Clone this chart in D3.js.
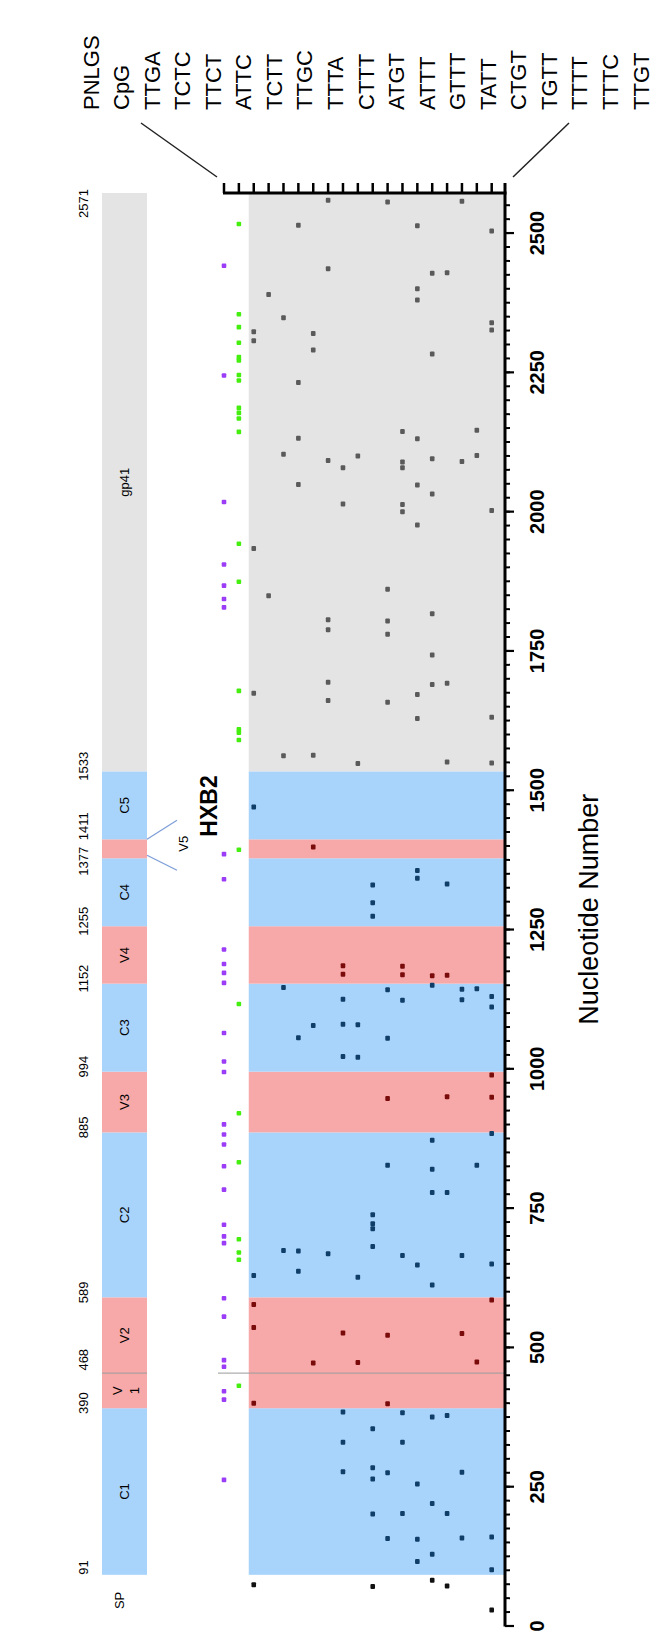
<!DOCTYPE html>
<html>
<head>
<meta charset="utf-8">
<script src="https://cdn.jsdelivr.net/npm/d3@7"></script>
<style>
  body { margin: 0; background: #fff; }
  svg { display: block; font-family: "Liberation Sans", Arial, Helvetica, sans-serif; }
</style>
</head>
<body>
<script>
// motif columns, left to right
var motifs = ["PNLGS", "CpG", "TTGA", "TCTC", "TTCT", "ATTC", "TCTT", "TTGC", "TTTA", "CTTT",
              "ATGT", "ATTT", "GTTT", "TATT", "CTGT", "TGTT", "TTTT", "TTTC", "TTGT"];

// nucleotide positions of each hit
var pnlgs = [2440, 2243, 2016, 1904, 1866, 1842, 1827, 1384, 1339, 1213, 1187, 1171, 1153, 1063, 1012, 993, 899, 881, 863, 824, 782, 719, 698, 686, 587, 554, 476, 464, 420, 405, 261];
var cpg = [2515, 2353, 2330, 2302, 2276, 2270, 2244, 2234, 2185, 2176, 2166, 2142, 1941, 1873, 1677, 1608, 1602, 1589, 1392, 1115, 919, 831, 693, 669, 656, 430];
var ttga = [2322, 2306, 1933, 1673, 1469, 628, 576, 535, 399, 73];
var tctc = [2389, 1848];
var ttct = [2347, 2102, 1561, 1145, 673];
var attc = [2513, 2231, 2131, 2048, 1055, 672, 636];
var tctt = [2319, 2289, 1562, 1397, 1077, 471];
var ttgc = [2558, 2435, 2091, 1805, 1787, 1693, 1660, 667];
var ttta = [2078, 2013, 1184, 1169, 1124, 1079, 1021, 525, 383, 329, 276];
var cttt = [2099, 1547, 1078, 1020, 625, 472];
var atgt = [1329, 1297, 1273, 737, 721, 712, 680, 353, 283, 263, 200, 70];
var attt = [2555, 1860, 1803, 1779, 1657, 1141, 1054, 946, 826, 521, 398, 274, 156];
var gttt = [2143, 2088, 2078, 2012, 1999, 1183, 1168, 1122, 664, 382, 329, 201];
var tatt = [2512, 2399, 2379, 2130, 2047, 1975, 1671, 1628, 1355, 1341, 647, 254, 155, 115];
var ctgt = [2427, 2282, 2094, 2031, 1816, 1742, 1689, 1166, 1149, 871, 819, 777, 611, 374, 219, 128, 81];
var tgtt = [2428, 1691, 1550, 1331, 1167, 949, 777, 377, 201, 71];
var tttt = [2556, 2089, 1142, 1123, 664, 524, 275, 157];
var tttc = [2145, 2100, 1143, 826, 473];
var ttgt = [2503, 2338, 2325, 2001, 1630, 1548, 1129, 1110, 988, 948, 883, 649, 584, 159, 100, 28];

var hits = [pnlgs, cpg, ttga, tctc, ttct, attc, tctt, ttgc, ttta, cttt,
            atgt, attt, gttt, tatt, ctgt, tgtt, tttt, tttc, ttgt];

// HXB2 env regions
var regionNames = ["C1", "V1", "V2", "C2", "V3", "C3", "V4", "C4", "V5", "C5", "gp41"];
var regionStart = [91, 390, 453, 589, 885, 994, 1152, 1255, 1377, 1411, 1533];
var regionEnd   = [390, 453, 589, 885, 994, 1152, 1255, 1377, 1411, 1533, 2571];
var regionType  = ["C", "V", "V", "C", "V", "C", "V", "C", "V", "C", "G"];

// numbers written beside the map
var boundaryLabels = [91, 390, 468, 589, 885, 994, 1152, 1255, 1377, 1411, 1533, 2571];

var majorTicks = d3.range(0, 2501, 250);
var minorTicks = d3.range(0, 2551, 25);

var bgColor = { C: "#a8d3fb", V: "#f7a8a8", G: "#e4e4e4" };
var dotColor = { C: "#0f3e68", V: "#7a0b0b", G: "#5a5a5a", N: "#111111" };

var width = 652, height = 1640;
var axisX = 505, axisTop = 193;
var barLeft = 102, barRight = 147;

var svg = d3.select("body").append("svg")
    .attr("width", width)
    .attr("height", height);

var y = d3.scaleLinear().domain([0, 2571]).range([1625.5, axisTop]);
var x = d3.scalePoint().domain(motifs).range([224, 491.7]);
var xLabel = d3.scalePoint().domain(motifs).range([91, 641]);

var regions = regionNames.map(function (n, i) {
    return { name: n, start: regionStart[i], end: regionEnd[i], type: regionType[i] };
});

function typeAt(n) {
    for (var i = 0; i < regions.length; i++) {
        if (n >= regions[i].start && n < regions[i].end) return regions[i].type;
    }
    return n >= 2571 ? "G" : "N";
}

// chart background bands
var bgLeft = x(motifs[2]) - 5;
svg.append("g").selectAll("rect")
    .data(regions)
    .enter().append("rect")
    .attr("x", bgLeft)
    .attr("width", axisX - bgLeft)
    .attr("y", function (d) { return y(d.end); })
    .attr("height", function (d) { return y(d.start) - y(d.end); })
    .attr("fill", function (d) { return bgColor[d.type]; });

// V1/V2 divider
svg.append("line")
    .attr("x1", 218).attr("x2", axisX)
    .attr("y1", y(regionStart[2])).attr("y2", y(regionStart[2]))
    .attr("stroke", "#999").attr("stroke-width", 1);

// genome map bar
var bar = svg.append("g");
bar.selectAll("rect")
    .data(regions)
    .enter().append("rect")
    .attr("x", barLeft)
    .attr("width", barRight - barLeft)
    .attr("y", function (d) { return y(d.end); })
    .attr("height", function (d) { return y(d.start) - y(d.end); })
    .attr("fill", function (d) { return bgColor[d.type]; });

bar.append("line")
    .attr("x1", barLeft).attr("x2", barRight)
    .attr("y1", y(regionStart[2])).attr("y2", y(regionStart[2]))
    .attr("stroke", "#999").attr("stroke-width", 1);

// region names inside the bar (V5 goes outside)
regions.forEach(function (d) {
    if (d.name === "V5") return;
    var cy = y((d.start + d.end) / 2);
    var t = bar.append("text")
        .attr("transform", "translate(" + ((barLeft + barRight) / 2) + "," + cy + ") rotate(-90)")
        .attr("text-anchor", "middle")
        .attr("dominant-baseline", "central")
        .style("font-size", "13px");
    if (d.name === "V1") {
        t.append("tspan").attr("x", 0).attr("dy", "-0.6em").text("V");
        t.append("tspan").attr("x", 0).attr("dy", "1.3em").text("1");
    } else {
        t.text(d.name);
    }
});

bar.append("text")
    .attr("transform", "translate(119," + y(45) + ") rotate(-90)")
    .attr("text-anchor", "middle")
    .attr("dominant-baseline", "central")
    .style("font-size", "13px")
    .text("SP");

// V5 call-out
var v5 = regions[8];
bar.append("line")
    .attr("x1", barRight).attr("y1", y(v5.end))
    .attr("x2", barRight + 30).attr("y2", y(v5.end) - 19)
    .attr("stroke", "#7f9fd8").attr("stroke-width", 1.3);
bar.append("line")
    .attr("x1", barRight).attr("y1", y(v5.start) - 3)
    .attr("x2", barRight + 30).attr("y2", y(v5.start) + 12)
    .attr("stroke", "#7f9fd8").attr("stroke-width", 1.3);
bar.append("text")
    .attr("transform", "translate(183," + (y((v5.start + v5.end) / 2) - 5) + ") rotate(-90)")
    .attr("text-anchor", "middle")
    .attr("dominant-baseline", "central")
    .style("font-size", "13px")
    .text("V5");

// boundary numbers, nudged apart where they would overlap
var labPos = boundaryLabels.map(function (v) {
    var half = String(v).length * 13 * 0.556 / 2;
    return { v: v, c: y(v) - 5, half: half };
});
for (var it = 0; it < 30; it++) {
    for (var i = 0; i < labPos.length - 1; i++) {
        var a = labPos[i], b = labPos[i + 1];
        var need = a.half + b.half + 6;
        var gap = a.c - b.c;
        if (gap < need) {
            var push = (need - gap) / 2;
            a.c += push; b.c -= push;
        }
    }
    labPos[0].c = Math.min(labPos[0].c, y(boundaryLabels[0]) - labPos[0].half);
    var last = labPos[labPos.length - 1];
    last.c = Math.max(last.c, y(boundaryLabels[boundaryLabels.length - 1]) + last.half - 4);
}
bar.selectAll(".blab")
    .data(labPos)
    .enter().append("text")
    .attr("class", "blab")
    .attr("transform", function (d) { return "translate(83," + d.c + ") rotate(-90)"; })
    .attr("text-anchor", "middle")
    .attr("dominant-baseline", "central")
    .style("font-size", "13px")
    .text(function (d) { return d.v; });

// title
svg.append("text")
    .attr("transform", "translate(209,806) rotate(-90)")
    .attr("text-anchor", "middle")
    .attr("dominant-baseline", "central")
    .style("font-size", "23px")
    .style("font-weight", "bold")
    .text("HXB2");

// hits
var dots = svg.append("g");
hits.forEach(function (arr, i) {
    var m = motifs[i];
    dots.selectAll(".c" + i)
        .data(arr)
        .enter().append("rect")
        .attr("class", "c" + i)
        .attr("x", x(m) - 2.3)
        .attr("y", function (d) { return y(d) - 2.5; })
        .attr("width", 4.6)
        .attr("height", i < 2 ? 4.6 : 5)
        .attr("rx", 1)
        .attr("fill", function (d) {
            if (i === 0) return "#9b3cf7";
            if (i === 1) return "#44ee0e";
            return dotColor[typeAt(d)];
        });
});

// vertical nucleotide axis
var axisG = svg.append("g").attr("transform", "translate(" + axisX + ",0)");
axisG.append("g")
    .call(d3.axisRight(y).tickValues(minorTicks).tickSize(5).tickSizeOuter(0).tickFormat(""))
    .call(function (g) { g.select(".domain").remove(); })
    .selectAll("line").attr("stroke", "#000").attr("stroke-width", 2);
var major = axisG.append("g")
    .call(d3.axisRight(y).tickValues(majorTicks).tickSize(9).tickSizeOuter(0).tickFormat(d3.format("d")));
major.select(".domain").remove();
major.selectAll("line").attr("stroke", "#000").attr("stroke-width", 2.2);
major.selectAll("text")
    .attr("x", null).attr("dy", null)
    .attr("transform", "translate(32,0) rotate(-90)")
    .attr("text-anchor", "middle")
    .attr("dominant-baseline", "central")
    .attr("fill", "#000")
    .style("font-size", "20px")
    .style("font-weight", "bold")
    .style("font-family", "\"Liberation Sans\", Arial, sans-serif");

axisG.append("line")
    .attr("x1", 0).attr("x2", 0)
    .attr("y1", y(0) + 1).attr("y2", axisTop - 10)
    .attr("stroke", "#000").attr("stroke-width", 3);

svg.append("text")
    .attr("transform", "translate(589," + ((y(0) + y(2571)) / 2) + ") rotate(-90)")
    .attr("text-anchor", "middle")
    .attr("dominant-baseline", "central")
    .style("font-size", "27px")
    .text("Nucleotide Number");

// top motif axis
svg.append("line")
    .attr("x1", x(motifs[0]) - 1).attr("x2", axisX + 1.5)
    .attr("y1", axisTop).attr("y2", axisTop)
    .attr("stroke", "#000").attr("stroke-width", 3);
svg.append("g").selectAll("line")
    .data(motifs)
    .enter().append("line")
    .attr("x1", function (d) { return x(d); })
    .attr("x2", function (d) { return x(d); })
    .attr("y1", axisTop).attr("y2", axisTop - 10)
    .attr("stroke", "#000").attr("stroke-width", 2.5);

// motif labels
svg.append("g").selectAll("text")
    .data(motifs)
    .enter().append("text")
    .attr("transform", function (d) { return "translate(" + xLabel(d) + ",110) rotate(-90)"; })
    .attr("text-anchor", "start")
    .attr("dominant-baseline", "central")
    .style("font-size", "22px")
    .text(function (d) { return d; });

// zoom lines from the labels to the axis
svg.append("line")
    .attr("x1", 141).attr("y1", 123).attr("x2", 217).attr("y2", 177)
    .attr("stroke", "#222").attr("stroke-width", 1.5);
svg.append("line")
    .attr("x1", 569).attr("y1", 123).attr("x2", 513).attr("y2", 177)
    .attr("stroke", "#222").attr("stroke-width", 1.5);
</script>
</body>
</html>
